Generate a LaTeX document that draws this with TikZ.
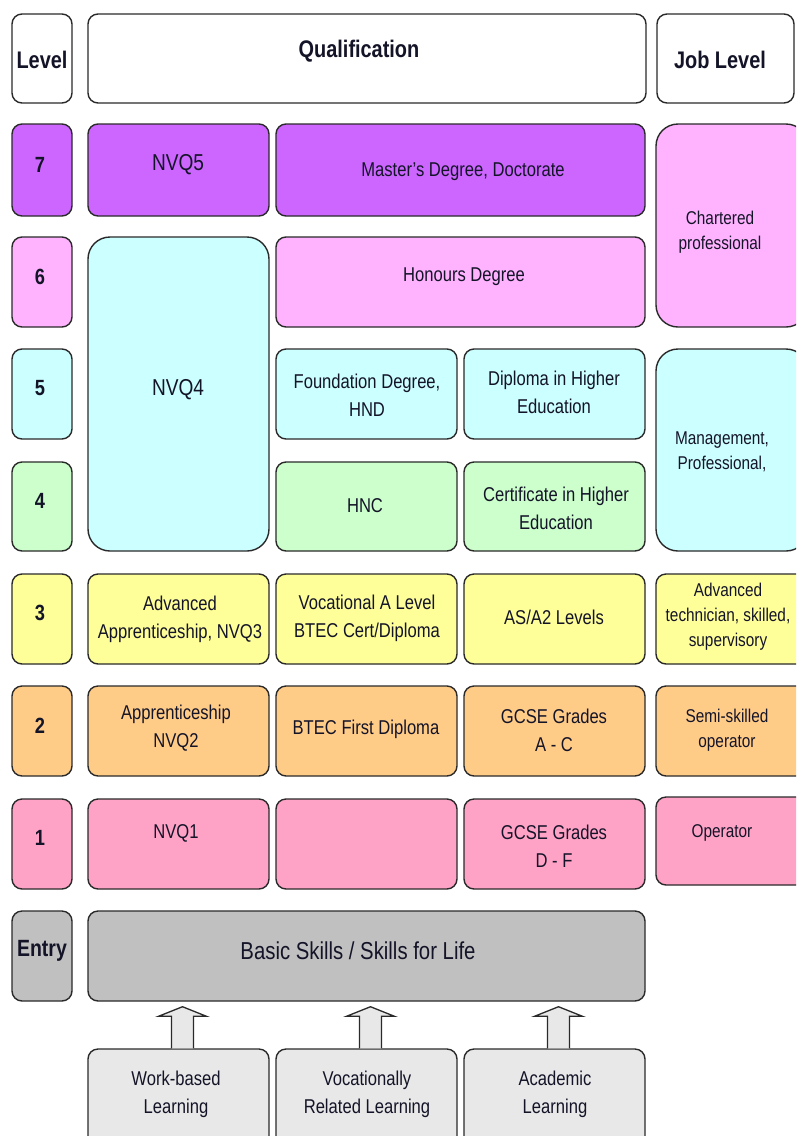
\documentclass[tikz,border=0pt]{standalone}
\usepackage{fontspec}
\setmainfont{Liberation Sans}[FakeStretch=0.83]
\usetikzlibrary{calc}
\definecolor{cPurple}{HTML}{CC66FF}
\definecolor{cLav}{HTML}{FFB3FF}
\definecolor{cCyan}{HTML}{CCFFFF}
\definecolor{cGreen}{HTML}{CCFFCC}
\definecolor{cYellow}{HTML}{FFFF99}
\definecolor{cOrange}{HTML}{FFCC88}
\definecolor{cPink}{HTML}{FFA3C6}
\definecolor{cGray}{HTML}{C0C0C0}
\definecolor{cLight}{HTML}{E8E8E8}
\definecolor{cLine}{HTML}{2A2A2A}
\definecolor{cText}{HTML}{141428}
\tikzset{
  bx/.style={draw=cLine, line width=1.4pt, rounded corners=#1, inner sep=0pt},
  bx/.default=10pt,
  txt/.style={align=center, inner sep=0pt, text=cText, font=\fontsize{20}{28}\selectfont},
  big/.style={txt, font=\fontsize{23}{28}\selectfont},
  hdr/.style={txt, font=\fontsize{24}{28}\selectfont\bfseries},
  lvl/.style={txt, font=\fontsize{22}{28}\selectfont\bfseries},
  job/.style={txt, font=\fontsize{18.5}{25}\selectfont},
  uparrow/.style={draw=cLine, line width=1.3pt, fill=cLight, line join=miter},
}
% name, x1, y1, x2, y2, fill, radius
\newcommand\qb[7]{%
  \node[bx=#7, fill=#6, minimum width={(#4-#2)*1pt}, minimum height={(#5-#3)*1pt}]
    (#1) at ({(#2+#4)/2},{(#3+#5)/2}) {};}
\newcommand\uparr[3]{% name, from node, to node
  \path ($(#2.north)+(4,0)$) coordinate (#1x);
  \path ($(#3.south)+(0,5)$) coordinate (#1y);
  \coordinate (#1tip) at (#1x |- #1y);
  \draw[uparrow] ($(#2.north)+(-7,0)$) -- ($(#2.north)+(-7,-32)$) -- ($(#2.north)+(-20,-32)$)
    -- (#1tip) -- ($(#2.north)+(28,-32)$) -- ($(#2.north)+(15,-32)$)
    -- ($(#2.north)+(15,0)$);}
\begin{document}
\begin{tikzpicture}[x=1pt,y=-1pt]
\useasboundingbox (0,0) rectangle (796,1136);
\clip (0,0) rectangle (796,1136);
\fill[white] (0,0) rectangle (796,1136);
% header
\qb{hL}{12}{14}{72}{103}{white}{10pt}
\qb{hQ}{88}{14}{646}{103}{white}{10pt}
\qb{hJ}{657}{14}{794}{103}{white}{10pt}
\node[hdr] (hLt) at (42,60) {Level};
\node[hdr] (hQt) at (359,51) {Qualification};
\node[hdr] (hJt) at (720,60) {Job Level};
% level column
\qb{l7}{12}{124}{72}{216}{cPurple}{10pt}
\qb{l6}{12}{237}{72}{327}{cLav}{10pt}
\qb{l5}{12}{349}{72}{439}{cCyan}{10pt}
\qb{l4}{12}{462}{72}{551}{cGreen}{10pt}
\qb{l3}{12}{574}{72}{664}{cYellow}{10pt}
\qb{l2}{12}{686}{72}{776}{cOrange}{10pt}
\qb{l1}{12}{799}{72}{889}{cPink}{10pt}
\qb{lE}{12}{911}{72}{1001}{cGray}{10pt}
\node[lvl] (l7t) at (40,165) {7};
\node[lvl] (l6t) at (40,277) {6};
\node[lvl] (l5t) at (40,388) {5};
\node[lvl] (l4t) at (40,501) {4};
\node[lvl] (l3t) at (40,613) {3};
\node[lvl] (l2t) at (40,726) {2};
\node[lvl] (l1t) at (40,838) {1};
\node[lvl, font=\fontsize{23.5}{28}\selectfont\bfseries] (lEt) at (42,951) {Entry};
% column A
\qb{a7}{88}{124}{269}{216}{cPurple}{10pt}
\qb{a4}{88}{237}{269}{551}{cCyan}{22pt}
\qb{a3}{88}{574}{269}{664}{cYellow}{10pt}
\qb{a2}{88}{686}{269}{776}{cOrange}{10pt}
\qb{a1}{88}{799}{269}{889}{cPink}{10pt}
\node[big] (a7t) at (178,165) {NVQ5};
\node[big] (a4t) at (178,390) {NVQ4};
\node[txt] (a3t) at (180,619) {Advanced\\Apprenticeship, NVQ3};
\node[txt] (a2t) at (176,728) {Apprenticeship\\NVQ2};
\node[txt] (a1t) at (176,833) {NVQ1};
% columns B and C
\qb{b7}{276}{124}{645}{216}{cPurple}{10pt}
\qb{b6}{276}{237}{645}{327}{cLav}{10pt}
\qb{b5}{276}{349}{457}{439}{cCyan}{10pt}
\qb{c5}{464}{349}{645}{439}{cCyan}{10pt}
\qb{b4}{276}{462}{457}{551}{cGreen}{10pt}
\qb{c4}{464}{462}{645}{551}{cGreen}{10pt}
\qb{b3}{276}{574}{457}{664}{cYellow}{10pt}
\qb{c3}{464}{574}{645}{664}{cYellow}{10pt}
\qb{b2}{276}{686}{457}{776}{cOrange}{10pt}
\qb{c2}{464}{686}{645}{776}{cOrange}{10pt}
\qb{b1}{276}{799}{457}{889}{cPink}{10pt}
\qb{c1}{464}{799}{645}{889}{cPink}{10pt}
\node[txt] (b7t) at (463,172) {Master's Degree, Doctorate};
\node[txt] (b6t) at (464,277) {Honours Degree};
\node[txt] (b5t) at (367,395) {Foundation Degree,\\HND};
\node[txt] (c5t) at (554,392) {Diploma in Higher\\Education};
\node[txt] (b4t) at (365,506) {HNC};
\node[txt] (c4t) at (556,508) {Certificate in Higher\\Education};
\node[txt] (b3t) at (367,618) {Vocational A Level\\BTEC Cert/Diploma};
\node[txt] (c3t) at (554,617) {AS/A2 Levels};
\node[txt] (b2t) at (366,729) {BTEC First Diploma};
\node[txt] (c2t) at (554,730) {GCSE Grades\\A - C};
\node[txt] (c1t) at (554,846) {GCSE Grades\\D - F};
% job column
\qb{j76}{656}{124}{808}{327}{cLav}{22pt}
\qb{j54}{656}{349}{808}{551}{cCyan}{22pt}
\qb{j3}{656}{574}{808}{664}{cYellow}{10pt}
\qb{j2}{656}{686}{808}{776}{cOrange}{10pt}
\qb{j1}{656}{797}{808}{885}{cPink}{10pt}
\node[job] (j76t) at (720,232) {Chartered\\professional};
\node[job] (j54t) at (722,452) {Management,\\Professional,};
\node[job] (j3t) at (728,617) {Advanced\\technician, skilled,\\supervisory};
\node[job] (j2t) at (727,730) {Semi-skilled\\operator};
\node[job] (j1t) at (722,833) {Operator};
% entry
\qb{e}{88}{911}{645}{1001}{cGray}{10pt}
\node[txt, font=\fontsize{24.5}{28}\selectfont] (et) at (358,951) {Basic Skills / Skills for Life};
% bottom routes
\qb{w}{88}{1049}{269}{1160}{cLight}{10pt}
\qb{v}{276}{1049}{457}{1160}{cLight}{10pt}
\qb{ac}{464}{1049}{645}{1160}{cLight}{10pt}
\node[txt] (wt) at (176,1094) {Work-based\\Learning};
\node[txt] (vt) at (367,1094) {Vocationally\\Related Learning};
\node[txt] (act) at (555,1094) {Academic\\Learning};
% arrows
\uparr{aw}{w}{e}
\uparr{av}{v}{e}
\uparr{aa}{ac}{e}
\end{tikzpicture}
\end{document}
